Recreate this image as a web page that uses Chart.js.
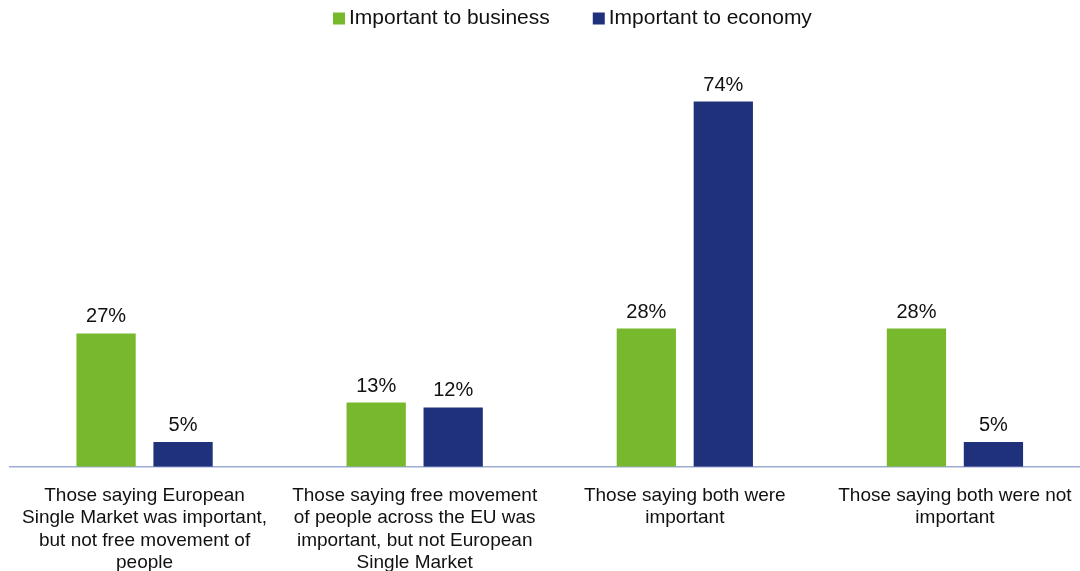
<!DOCTYPE html>
<html>
<head>
<meta charset="utf-8">
<script src="https://cdn.jsdelivr.net/npm/chart.js@4/dist/chart.umd.min.js"></script>
<style>
  html, body { margin: 0; padding: 0; background: #fff; overflow: hidden; }
  #wrap { width: 1090px; height: 592px; position: relative; }
</style>
</head>
<body>
<div id="wrap"><canvas id="chart"></canvas></div>
<script>
const categories = [
  ["Those saying European", "Single Market was important,", "but not free movement of", "people"],
  ["Those saying free movement", "of people across the EU was", "important, but not European", "Single Market"],
  ["Those saying both were", "important"],
  ["Those saying both were not", "important"]
];
const seriesNames = ["Important to business", "Important to economy"];
const businessValues = [27, 13, 28, 28];
const economyValues = [5, 12, 74, 5];

const FONT = "'Liberation Sans', Arial, sans-serif";

// Writes each bar's value above it as a percentage
const valueLabels = {
  id: 'valueLabels',
  afterDatasetsDraw(chart) {
    const ctx = chart.ctx;
    ctx.save();
    ctx.font = "20px " + FONT;
    ctx.fillStyle = '#111';
    ctx.textAlign = 'center';
    ctx.textBaseline = 'alphabetic';
    chart.data.datasets.forEach((ds, i) => {
      chart.getDatasetMeta(i).data.forEach((bar, j) => {
        ctx.fillText(ds.data[j] + '%', bar.x, bar.y - 11);
      });
    });
    ctx.restore();
  }
};

// Series key across the top: small square swatch followed by the series name
const topLegend = {
  id: 'topLegend',
  afterDraw(chart) {
    const ctx = chart.ctx;
    ctx.save();
    ctx.font = "21px " + FONT;
    ctx.textBaseline = 'middle';
    ctx.textAlign = 'left';
    let x = 333;
    const y = 18.5;
    chart.data.datasets.forEach(ds => {
      ctx.fillStyle = ds.backgroundColor;
      ctx.fillRect(x, y - 6, 12, 12);
      ctx.fillStyle = '#111';
      ctx.fillText(ds.label, x + 16, y);
      x += 16 + ctx.measureText(ds.label).width + 43;
    });
    ctx.restore();
  }
};

new Chart(document.getElementById('chart'), {
  type: 'bar',
  data: {
    labels: categories,
    datasets: [
      { label: seriesNames[0], data: businessValues, backgroundColor: '#77b82d' },
      { label: seriesNames[1], data: economyValues, backgroundColor: '#1f317b' }
    ]
  },
  options: {
    responsive: true,
    maintainAspectRatio: false,
    animation: false,
    categoryPercentage: 0.57,
    barPercentage: 0.77,
    layout: { padding: { left: 9.5, right: 0, top: 72, bottom: 0 } },
    plugins: {
      legend: { display: false },
      tooltip: { enabled: false }
    },
    scales: {
      x: {
        grid: { display: false, drawTicks: false },
        border: { display: true, color: '#9eabd3', width: 1.5 },
        ticks: {
          font: { family: FONT, size: 19, lineHeight: 1.175 },
          color: '#111',
          padding: 18,
          maxRotation: 0,
          autoSkip: false
        }
      },
      y: {
        display: false,
        min: 0,
        max: 80
      }
    }
  },
  plugins: [valueLabels, topLegend]
});
</script>
</body>
</html>
